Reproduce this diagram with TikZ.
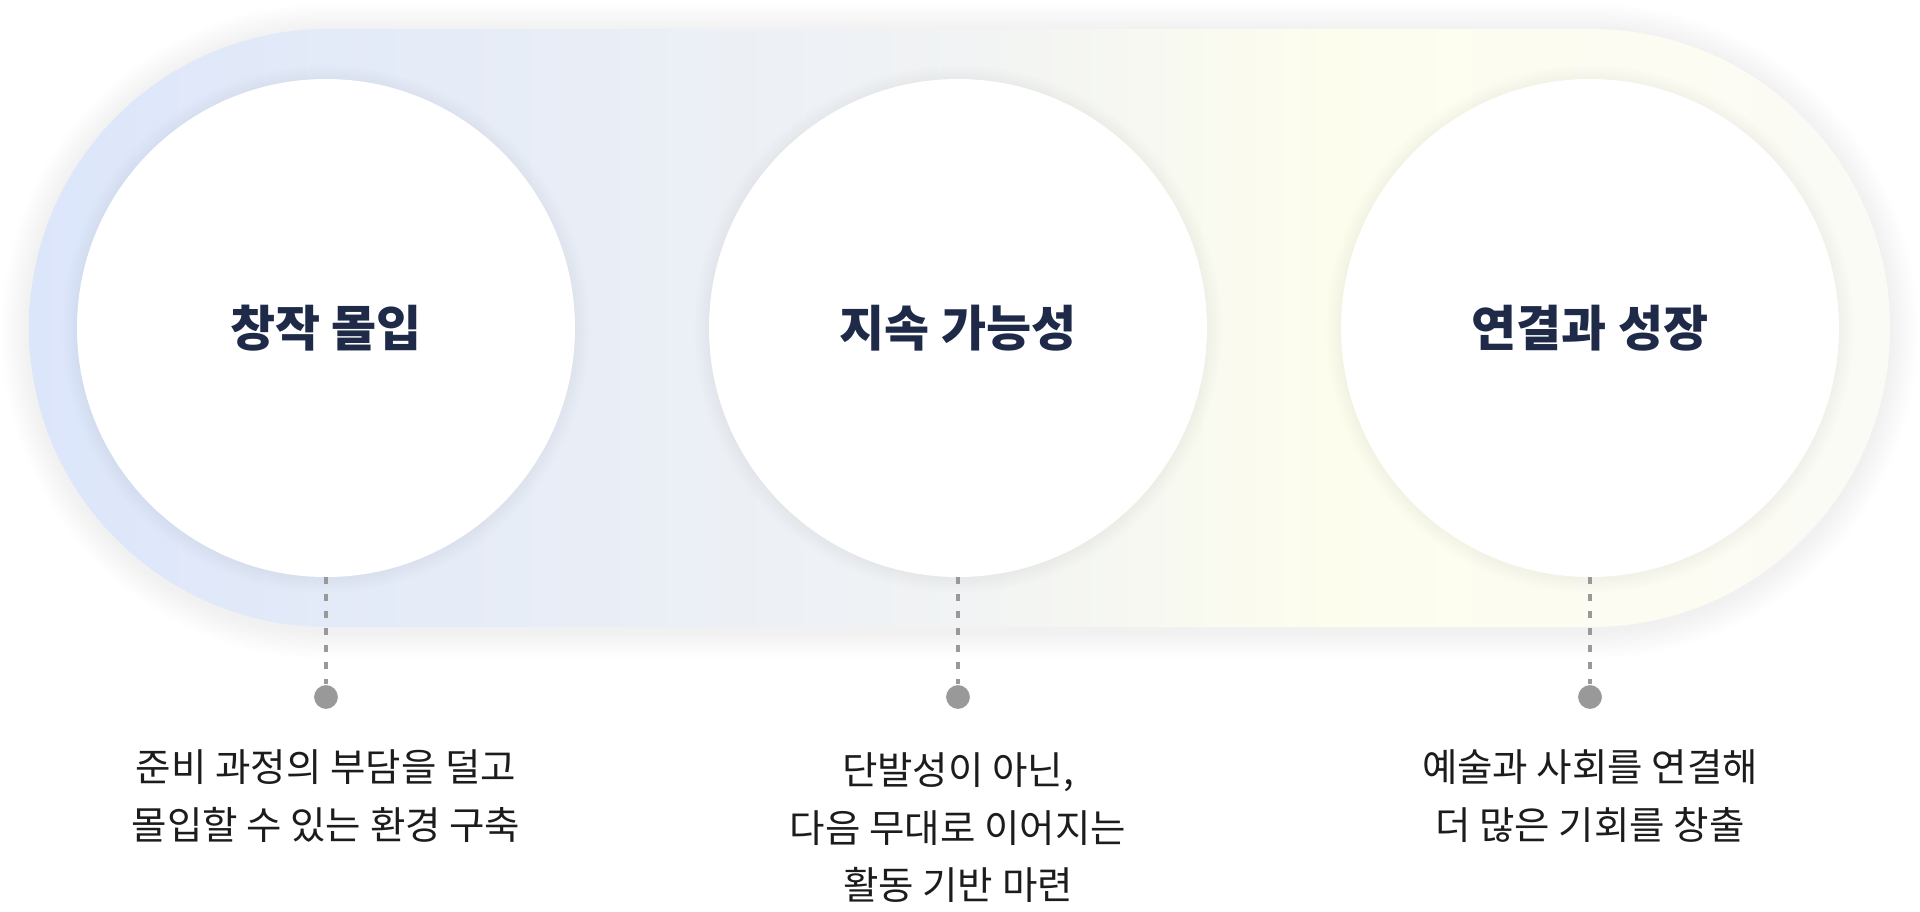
\documentclass[tikz,border=0pt]{standalone}
\usepackage{fontspec}
\setmainfont{Noto Sans CJK KR}
\definecolor{pillA}{HTML}{DCE6FB}
\definecolor{pillB}{HTML}{E3EAF8}
\definecolor{pillC}{HTML}{F1F3F4}
\definecolor{pillD}{HTML}{FDFDEE}
\definecolor{pillE}{HTML}{FBFBF6}
\definecolor{titlec}{HTML}{1E2A47}
\definecolor{descc}{HTML}{1C1C1C}
\definecolor{dotc}{HTML}{999999}
\pgfdeclarehorizontalshading{pillshade}{100bp}{color(0bp)=(pillA); color(25bp)=(pillA); color(33bp)=(pillB); color(50bp)=(pillC); color(60bp)=(pillD); color(75bp)=(pillE); color(100bp)=(pillE)}
\tikzset{
  stage/.style={circle, fill=white, minimum size=498pt, inner sep=0pt,
    font=\fontsize{49}{58}\selectfont\bfseries, text=titlec},
  softshade/.style={black, opacity=0.004},
  dotn/.style={circle, fill=dotc, draw=white, line width=1pt, minimum size=25pt, inner sep=0pt},
  lead/.style={draw=dotc, line width=3.6pt, dash pattern=on 7pt off 10pt},
  desc/.style={align=center, font=\fontsize{38.5}{57.5}\selectfont, text=descc, inner sep=0pt}
}
\begin{document}
\begin{tikzpicture}[x=1pt,y=-1pt]
\useasboundingbox (0,0) rectangle (1920,911);
\fill[white] (0,0) rectangle (1920,911);
% soft shadow of the band
\foreach \r in {2,4,...,28}{
  \fill[softshade, rounded corners={(299+\r)*1pt}] (29-\r,31-\r) rectangle (1890+\r,631+\r);
}
\shade[shading=pillshade, rounded corners=298.9pt] (29,29) rectangle (1890,627);
% soft shadows of the circles
\foreach \cx in {326,958,1590}{
  \foreach \r in {1.5,3,...,15}{
    \fill[softshade] (\cx,329) circle ({(249+\r)*1pt});
  }
}
\node[stage] (c1) at (326,328) {창작 몰입};
\node[stage] (c2) at (958,328) {지속 가능성};
\node[stage] (c3) at (1590,328) {연결과 성장};
\node[dotn] (d1) at (326,697) {};
\node[dotn] (d2) at (958,697) {};
\node[dotn] (d3) at (1590,697) {};
\draw[lead] (c1.south) -- (d1.north);
\draw[lead] (c2.south) -- (d2.north);
\draw[lead] (c3.south) -- (d3.north);
\node[desc] (t1) at (326,796) {준비 과정의 부담을 덜고\\몰입할 수 있는 환경 구축};
\node[desc] (t2) at (958,828) {단발성이 아닌,\\다음 무대로 이어지는\\활동 기반 마련};
\node[desc] (t3) at (1590,796) {예술과 사회를 연결해\\더 많은 기회를 창출};
\end{tikzpicture}
\end{document}
